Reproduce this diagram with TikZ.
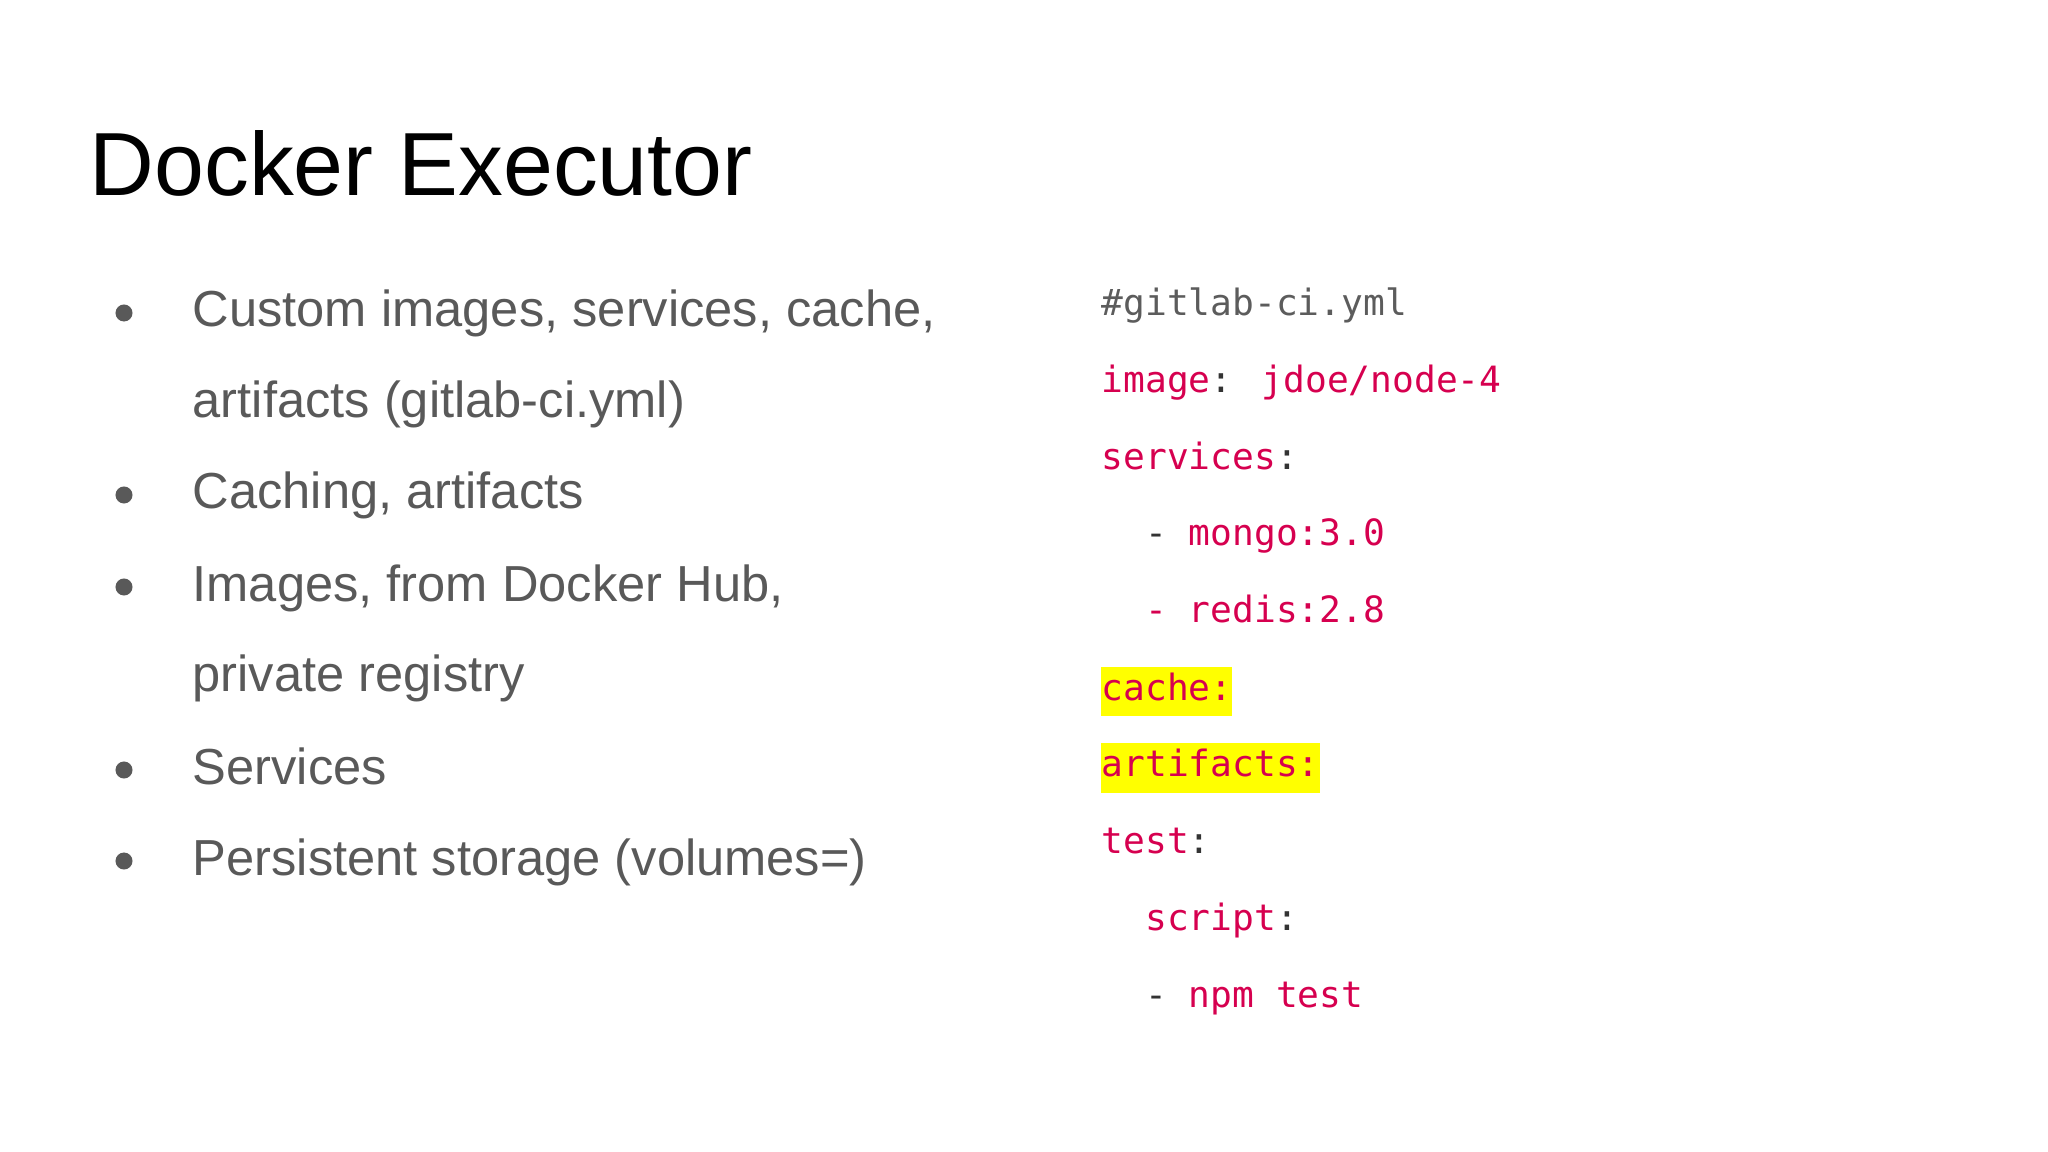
\documentclass[tikz,border=0pt]{standalone}
\usepackage{fontspec}
\setmainfont{Liberation Sans}
\newfontfamily\codefont{DejaVu Sans Mono}
\definecolor{txt}{HTML}{595959}
\definecolor{cred}{HTML}{D6004F}
\definecolor{cgray}{HTML}{333333}
\definecolor{hl}{HTML}{FFFF00}
\begin{document}
\begin{tikzpicture}[x=0.01cm,y=-0.01cm,
  title/.style={anchor=base west,inner sep=0,font=\fontsize{25.5}{30}\selectfont,text=black},
  btxt/.style={anchor=base west,inner sep=0,font=\fontsize{14.4}{17}\selectfont,text=txt},
  bdot/.style={fill=txt,draw=none,circle,minimum size=0.17cm,inner sep=0},
  code/.style={anchor=base west,inner sep=0,font=\codefont\fontsize{10.3}{12}\selectfont,text=cred}]
\useasboundingbox (0,0) rectangle (2048,1152);
\node[title] (t) at (89,196) {Docker Executor};
\foreach \n/\y/\s in {b1/327/{Custom images, services, cache,},b2/418/{artifacts (gitlab-ci.yml)},b3/509/{Caching, artifacts},b4/601/{Images, from Docker Hub,},b5/692/{private registry},b6/784/{Services},b7/875/{Persistent storage (volumes=)}}
  \node[btxt] (\n) at (192,\y) {\s};
\foreach \n/\y in {d1/327,d3/509,d4/601,d6/784,d7/875}
  \node[bdot] (\n) at (124,\y-14) {};
\fill[hl] (1101,667) rectangle (1232,716);
\fill[hl] (1101,743) rectangle (1320,793);
\node[code,text=cgray!80] (c1) at (1101,316) {\#gitlab-ci.yml};
\node[code] (c2) at (1101,393) {image\textcolor{cgray}{:} jdoe/node-4};
\node[code] (c3) at (1101,470) {services\textcolor{cgray}{:}};
\node[code] (c4) at (1101,546) {\textcolor{cgray}{\ \ -} mongo:3.0};
\node[code] (c5) at (1101,623) {\ \ - redis:2.8};
\node[code] (c6) at (1101,700) {cache:};
\node[code] (c7) at (1101,776) {artifacts:};
\node[code] (c8) at (1101,853) {test\textcolor{cgray}{:}};
\node[code] (c9) at (1101,930) {\ \ script\textcolor{cgray}{:}};
\node[code] (c10) at (1101,1007) {\textcolor{cgray}{\ \ -} npm test};
\end{tikzpicture}
\end{document}
